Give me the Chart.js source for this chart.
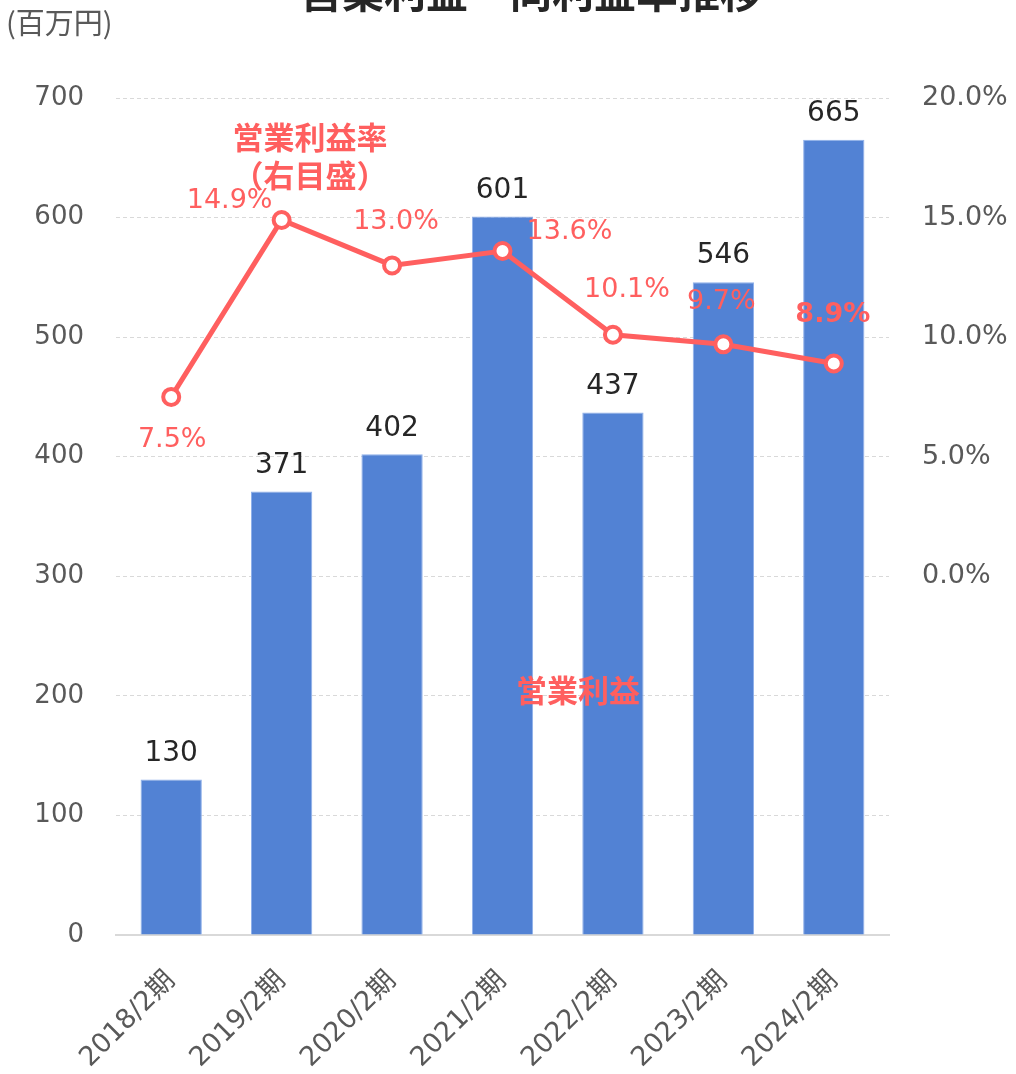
<!DOCTYPE html>
<html>
<head>
<meta charset="utf-8">
<script src="https://cdn.jsdelivr.net/npm/chart.js@4.4.1/dist/chart.umd.min.js"></script>
<style>
  html, body { margin: 0; padding: 0; background: #fff; }
  #wrap { width: 1016px; height: 1074px; position: relative; }
</style>
</head>
<body>
<div id="wrap"><canvas id="chart"></canvas></div>
<script>
// data
var periods = ['2018/2期', '2019/2期', '2020/2期', '2021/2期', '2022/2期', '2023/2期', '2024/2期'];
var operatingProfit = [130, 371, 402, 601, 437, 546, 665];
var profitRate = [7.5, 14.9, 13.0, 13.6, 10.1, 9.7, 8.9];

// label offsets for the rate labels (dx, dy from point)
var rateLabelOffset = [[1, 43], [-52, -19], [4, -43], [67, -19], [14, -45], [-2, -42], [-1, -48]];

var FONT = '"DejaVu Sans", "Noto Sans CJK JP", sans-serif';
var BLUE = '#5282d4';
var RED = '#ff5f5f';
var GREY = '#595959';

var labelPlugin = {
  id: 'labels',
  afterDatasetsDraw: function (chart) {
    var c = chart.ctx;
    c.save();

    // bar values
    var bars = chart.getDatasetMeta(1).data;
    c.font = '28px ' + FONT;
    c.fillStyle = '#262626';
    c.textAlign = 'center';
    c.textBaseline = 'bottom';
    bars.forEach(function (b, i) {
      c.fillText(operatingProfit[i], b.x, b.y - 12);
    });

    // rate values
    var pts = chart.getDatasetMeta(0).data;
    c.fillStyle = RED;
    c.textBaseline = 'middle';
    pts.forEach(function (p, i) {
      var last = i === pts.length - 1;
      c.font = (last ? 'bold ' : '') + '27px ' + FONT;
      c.fillText(profitRate[i].toFixed(1) + '%', p.x + rateLabelOffset[i][0], p.y + rateLabelOffset[i][1]);
    });

    // series names
    c.font = 'bold 31px "Noto Sans CJK JP", sans-serif';
    c.fillText('営業利益率', 310, 137);
    c.fillText('（右目盛）', 310, 175);
    c.fillText('営業利益', 578, 690);

    // title (cut at top) and unit
    c.fillStyle = '#262626';
    c.font = 'bold 42px "Noto Sans CJK JP", sans-serif';
    c.fillText('営業利益・同利益率推移', 531, -8);
    c.fillStyle = GREY;
    c.font = '29px "Noto Sans CJK JP", sans-serif';
    c.textAlign = 'left';
    c.fillText('(百万円)', 6, 23);
    c.restore();
  }
};

new Chart(document.getElementById('chart'), {
  type: 'bar',
  data: {
    labels: periods,
    datasets: [{
      type: 'line',
      label: '営業利益率',
      data: profitRate,
      yAxisID: 'yRate',
      borderColor: RED,
      borderWidth: 5,
      pointRadius: 8,
      pointBorderWidth: 4,
      pointBackgroundColor: '#fff',
      pointBorderColor: RED,
      tension: 0,
      order: 0
    }, {
      label: '営業利益',
      data: operatingProfit,
      yAxisID: 'y',
      backgroundColor: BLUE,
      borderColor: '#8fb0ea',
      borderWidth: 1,
      categoryPercentage: 1,
      barPercentage: 0.555,
      order: 1
    }]
  },
  options: {
    responsive: true,
    maintainAspectRatio: false,
    animation: false,
    layout: { padding: { top: 98, bottom: 0, left: 0, right: 0 } },
    plugins: {
      legend: { display: false },
      title: { display: false },
      tooltip: { enabled: false }
    },
    scales: {
      x: {
        grid: { display: false, drawTicks: false },
        border: { color: '#d9d9d9', width: 2 },
        ticks: {
          color: GREY,
          font: { family: FONT, size: 27 },
          minRotation: 45,
          maxRotation: 45,
          padding: 30
        },
        afterFit: function (s) { s.height = 139; }
      },
      y: {
        position: 'left',
        min: 0,
        max: 700,
        grid: { color: '#d9d9d9', drawTicks: false },
        border: { display: false, dash: [4, 3] },
        ticks: {
          stepSize: 100,
          color: GREY,
          font: { family: FONT, size: 26 },
          padding: 32
        },
        afterFit: function (s) { s.width = 116; }
      },
      yRate: {
        position: 'right',
        min: -15,
        max: 20,
        grid: { display: false, drawTicks: false },
        border: { display: false },
        ticks: {
          stepSize: 5,
          color: GREY,
          font: { family: FONT, size: 27 },
          padding: 33,
          callback: function (v) { return v < 0 ? '' : v.toFixed(1) + '%'; }
        },
        afterFit: function (s) { s.width = 127; }
      }
    }
  },
  plugins: [labelPlugin]
});
</script>
</body>
</html>
